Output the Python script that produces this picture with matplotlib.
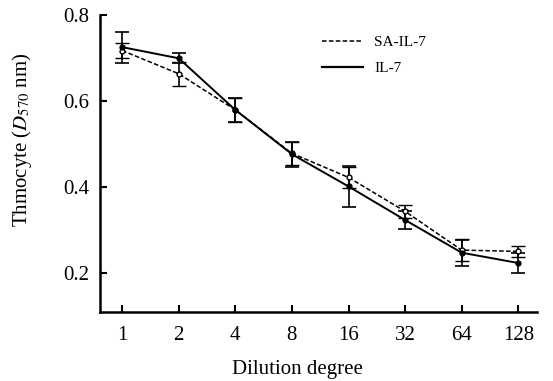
import matplotlib
matplotlib.use('Agg')
import matplotlib.pyplot as plt
from matplotlib.lines import Line2D
import numpy as np

plt.rcParams['font.family'] = 'Liberation Serif'
plt.rcParams['mathtext.fontset'] = 'stix'

# Data
dilution = ['1', '2', '4', '8', '16', '32', '64', '128']
sa_il7 = [0.717, 0.663, 0.579, 0.478, 0.422, 0.343, 0.253, 0.250]
sa_il7_err = [0.018, 0.028, 0.027, 0.027, 0.025, 0.015, 0.025, 0.013]
il7 = [0.725, 0.699, 0.579, 0.476, 0.401, 0.323, 0.247, 0.223]
il7_err = [0.036, 0.012, 0.027, 0.029, 0.047, 0.022, 0.030, 0.024]

x = np.arange(len(dilution))
dash = (0, (3, 1.5))

fig = plt.figure(figsize=(5.53, 3.81), dpi=100)
ax = fig.add_axes([0.181, 0.181, 0.79, 0.78])

ax.errorbar(x, sa_il7, yerr=sa_il7_err, color='black', ls=dash, lw=1.1,
            marker='o', ms=3.5, mfc='white', mew=1.0, capsize=5, elinewidth=1.2,
            capthick=1.2)
ax.errorbar(x, il7, yerr=il7_err, color='black', ls='-', lw=1.4,
            marker='o', ms=3.5, capsize=5, elinewidth=1.2, capthick=1.2)

ax.set_xlim(-0.39, 7.33)
ax.set_ylim(0.109, 0.8)
ax.set_xticks(x)
ax.set_xticklabels(dilution)
ax.set_yticks([0.2, 0.4, 0.6, 0.8])
ax.set_yticklabels(['0.2', '0.4', '0.6', '0.8'])

for s in ['top', 'right']:
    ax.spines[s].set_visible(False)
for s in ['left', 'bottom']:
    ax.spines[s].set_linewidth(1.8)
ax.tick_params(direction='in', length=5, width=1.5, labelsize=15, pad=8)
ax.tick_params(axis='x', pad=10)

ax.set_xlabel('Dilution degree', fontsize=15)
ax.xaxis.set_label_coords(0.452, -0.16)
ax.set_ylabel(r'Thmocyte ($\mathit{D}_{\mathit{570}}$ nm)', fontsize=15)
ax.yaxis.set_label_coords(-0.152, 0.58)

handles = [Line2D([], [], color='black', ls=dash, lw=1.1),
           Line2D([], [], color='black', ls='-', lw=1.6)]
ax.legend(handles, ['SA-IL-7', 'IL-7'], loc='upper left', bbox_to_anchor=(0.508, 0.93),
          frameon=False, fontsize=11, handlelength=2.7, handletextpad=0.7,
          labelspacing=0.8, borderpad=0, borderaxespad=0)

fig.savefig('out.png', dpi=100)
